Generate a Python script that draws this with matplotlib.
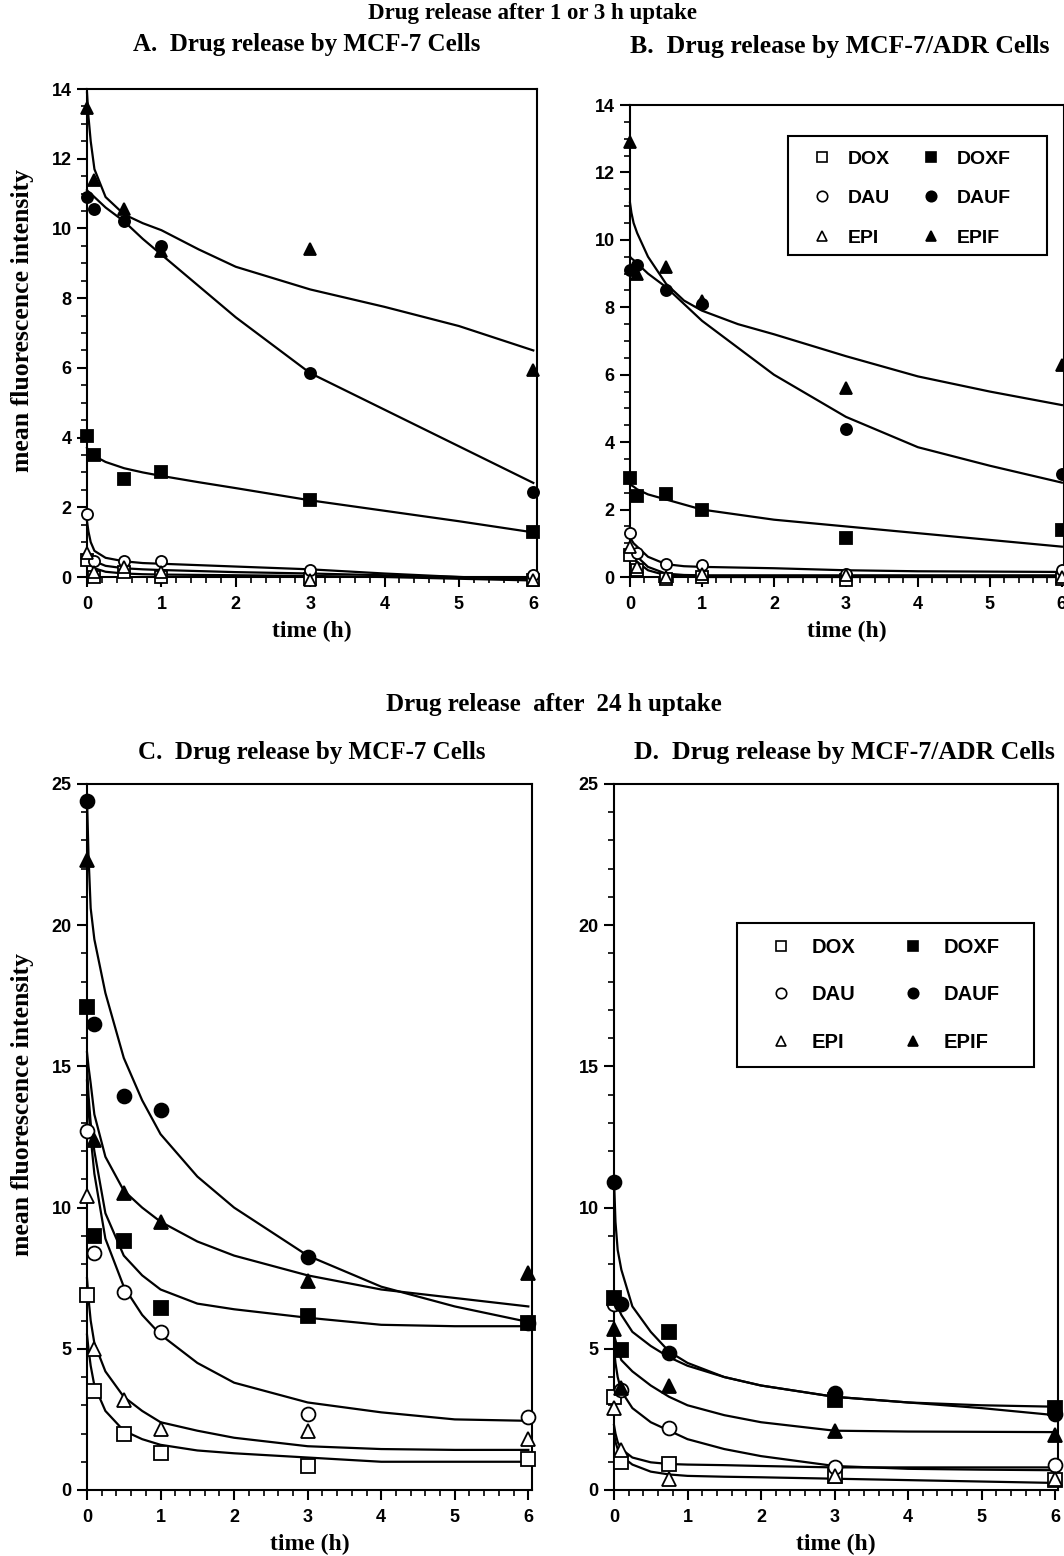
import numpy as np
import matplotlib.pyplot as plt
from matplotlib.lines import Line2D
from matplotlib.patches import Rectangle
from matplotlib.ticker import MultipleLocator

SERIF = 'Liberation Serif'
SANS = 'Liberation Sans'

# sampling times of the measured points
t_ab = [0, 0.1, 0.5, 1, 3, 6]
t_c = [0, 0.1, 0.5, 1, 3, 6]
t_d = [0, 0.1, 0.75, 3, 6]
t_fit = [0, 0.02, 0.05, 0.1, 0.25, 0.5, 0.75, 1, 1.5, 2, 3, 4, 5, 6]

names = ['DOX', 'DAU', 'EPI', 'DOXF', 'DAUF', 'EPIF']

# A. MCF-7, 1 or 3 h uptake
a_dox = [0.5, 0.0, 0.15, 0.0, -0.05, -0.1]
a_dau = [1.8, 0.45, 0.45, 0.45, 0.2, 0.05]
a_epi = [0.7, 0.15, 0.3, 0.15, -0.1, -0.1]
a_doxf = [4.05, 3.5, 2.8, 3.0, 2.2, 1.3]
a_dauf = [10.9, 10.55, 10.2, 9.5, 5.85, 2.45]
a_epif = [13.45, 11.4, 10.55, 9.35, 9.4, 5.95]

a_fit_dox = [0.5, 0.42, 0.34, 0.25, 0.15, 0.1, 0.08, 0.07, 0.06, 0.05, 0.03, 0.0, -0.05, -0.1]
a_fit_dau = [1.6, 1.3, 1.0, 0.75, 0.55, 0.45, 0.4, 0.38, 0.34, 0.3, 0.22, 0.1, 0.0, -0.05]
a_fit_epi = [0.75, 0.65, 0.55, 0.45, 0.32, 0.25, 0.22, 0.2, 0.17, 0.14, 0.1, 0.05, 0.0, -0.05]
a_fit_doxf = [3.7, 3.62, 3.55, 3.47, 3.3, 3.12, 3.0, 2.9, 2.72, 2.55, 2.2, 1.9, 1.6, 1.28]
a_fit_dauf = [11.1, 11.05, 11.0, 10.9, 10.6, 10.2, 9.7, 9.25, 8.35, 7.45, 5.85, 4.8, 3.75, 2.7]
a_fit_epif = [13.9, 13.2, 12.5, 11.7, 10.9, 10.4, 10.15, 9.95, 9.4, 8.9, 8.25, 7.75, 7.2, 6.5]

# B. MCF-7/ADR, 1 or 3 h uptake
b_dox = [0.65, 0.2, -0.05, 0.0, -0.1, -0.05]
b_dau = [1.3, 0.7, 0.4, 0.35, 0.1, 0.2]
b_epi = [0.9, 0.3, 0.0, 0.1, 0.05, 0.0]
b_doxf = [2.95, 2.4, 2.45, 2.0, 1.15, 1.4]
b_dauf = [9.1, 9.25, 8.5, 8.1, 4.4, 3.05]
b_epif = [12.9, 9.0, 9.2, 8.2, 5.6, 6.3]

b_fit_dox = [0.7, 0.62, 0.55, 0.45, 0.2, 0.05, 0.02, 0.0, 0.0, 0.0, 0.0, 0.0, 0.0, 0.0]
b_fit_dau = [1.2, 1.1, 1.0, 0.9, 0.6, 0.38, 0.32, 0.3, 0.28, 0.26, 0.2, 0.17, 0.16, 0.15]
b_fit_epi = [0.9, 0.82, 0.72, 0.6, 0.3, 0.1, 0.06, 0.05, 0.05, 0.05, 0.05, 0.05, 0.05, 0.05]
b_fit_doxf = [2.75, 2.72, 2.68, 2.6, 2.45, 2.3, 2.15, 2.0, 1.85, 1.7, 1.5, 1.3, 1.1, 0.9]
b_fit_dauf = [9.5, 9.45, 9.4, 9.3, 9.0, 8.6, 8.1, 7.6, 6.8, 6.0, 4.75, 3.85, 3.3, 2.8]
b_fit_epif = [11.1, 10.8, 10.5, 10.2, 9.5, 8.7, 8.2, 7.9, 7.5, 7.2, 6.55, 5.95, 5.5, 5.1]

# C. MCF-7, 24 h uptake
c_dox = [6.9, 3.5, 2.0, 1.3, 0.85, 1.1]
c_dau = [12.7, 8.4, 7.0, 5.6, 2.7, 2.6]
c_epi = [10.4, 5.0, 3.2, 2.15, 2.1, 1.8]
c_doxf = [17.1, 9.0, 8.8, 6.45, 6.15, 5.9]
c_dauf = [24.4, 16.5, 13.95, 13.45, 8.25, 5.9]
c_epif = [22.3, 12.4, 10.5, 9.5, 7.4, 7.7]

c_fit_dox = [5.5, 5.0, 4.4, 3.7, 2.8, 2.1, 1.8, 1.6, 1.4, 1.3, 1.15, 1.0, 1.0, 1.0]
c_fit_dau = [14.5, 13.5, 12.5, 11.2, 8.9, 7.2, 6.2, 5.5, 4.5, 3.8, 3.1, 2.75, 2.5, 2.45]
c_fit_epi = [7.5, 6.8, 6.0, 5.2, 4.2, 3.3, 2.8, 2.4, 2.1, 1.85, 1.55, 1.45, 1.42, 1.42]
c_fit_doxf = [15.0, 14.0, 13.0, 12.0, 9.8, 8.3, 7.6, 7.1, 6.6, 6.4, 6.1, 5.85, 5.8, 5.8]
c_fit_dauf = [24.5, 22.5, 20.6, 19.5, 17.6, 15.3, 13.8, 12.6, 11.1, 10.0, 8.3, 7.2, 6.5, 5.95]
c_fit_epif = [15.5, 15.0, 14.4, 13.3, 11.8, 10.6, 10.0, 9.5, 8.8, 8.3, 7.6, 7.1, 6.8, 6.5]

# D. MCF-7/ADR, 24 h uptake
d_dox = [3.3, 1.0, 0.92, 0.5, 0.35]
d_dau = [6.6, 3.55, 2.2, 0.8, 0.9]
d_epi = [2.9, 1.4, 0.4, 0.5, 0.4]
d_doxf = [6.8, 4.95, 5.6, 3.2, 2.9]
d_dauf = [10.9, 6.6, 4.85, 3.45, 2.7]
d_epif = [5.7, 3.6, 3.7, 2.1, 1.95]

d_fit_dox = [2.3, 2.0, 1.7, 1.45, 1.15, 0.98, 0.92, 0.9, 0.88, 0.85, 0.8, 0.8, 0.8, 0.8]
d_fit_dau = [5.0, 4.5, 4.0, 3.5, 2.9, 2.4, 2.1, 1.8, 1.45, 1.2, 0.85, 0.75, 0.72, 0.7]
d_fit_epi = [2.0, 1.7, 1.45, 1.2, 0.9, 0.65, 0.55, 0.5, 0.47, 0.45, 0.4, 0.35, 0.3, 0.25]
d_fit_doxf = [7.0, 6.8, 6.5, 6.2, 5.6, 5.1, 4.7, 4.4, 4.0, 3.7, 3.3, 3.1, 2.9, 2.65]
d_fit_dauf = [11.0, 9.5, 8.5, 7.8, 6.5, 5.6, 4.9, 4.5, 4.0, 3.7, 3.3, 3.1, 3.0, 2.95]
d_fit_epif = [5.5, 5.3, 5.0, 4.6, 4.2, 3.7, 3.3, 3.0, 2.65, 2.4, 2.1, 2.07, 2.06, 2.05]

marker_style = {
    'DOX': ('s', 'white'), 'DAU': ('o', 'white'), 'EPI': ('^', 'white'),
    'DOXF': ('s', 'black'), 'DAUF': ('o', 'black'), 'EPIF': ('^', 'black'),
}

W, H = 1064, 1556
fig = plt.figure(figsize=(W / 100, H / 100), dpi=100)


def axes_px(x0, y_top, x1, y_bot):
    return fig.add_axes([x0 / W, 1 - y_bot / H, (x1 - x0) / W, (y_bot - y_top) / H])


def draw_panel(ax, t, points, fits, xmax, ymax, major, minor, msize):
    for f in fits:
        ax.plot(t_fit, f, color='black', lw=1.6, zorder=2, clip_on=False)
    for name, vals in zip(names, points):
        m, fc = marker_style[name]
        ax.plot(t, vals, ls='none', marker=m, ms=msize, mfc=fc, mec='black',
                mew=1.3, zorder=3, clip_on=False)
    ax.set_xlim(0, xmax)
    ax.set_ylim(0, ymax)
    ax.xaxis.set_major_locator(MultipleLocator(1))
    ax.xaxis.set_minor_locator(MultipleLocator(0.2))
    ax.yaxis.set_major_locator(MultipleLocator(major))
    ax.yaxis.set_minor_locator(MultipleLocator(minor))
    ax.tick_params(which='major', direction='out', length=7, width=1.5, labelsize=13)
    ax.tick_params(axis='x', which='major', pad=7)
    ax.tick_params(axis='y', which='major', pad=4)
    ax.tick_params(which='minor', direction='out', length=4, width=1.2)
    for lab in ax.get_xticklabels() + ax.get_yticklabels():
        lab.set_fontfamily(SANS)
        lab.set_fontweight('bold')
    for s in ax.spines.values():
        s.set_linewidth(1.5)
    ax.set_xlabel('time (h)', fontfamily=SERIF, fontweight='bold', fontsize=17, labelpad=5)


def add_legend(box, marker_x, size, htp, cs, ls, dy=0):
    # box = (left, top, right, bottom) in pixels
    x0, y0, x1, y1 = box
    fig.add_artist(Rectangle((x0 / W, 1 - y1 / H), (x1 - x0) / W, (y1 - y0) / H,
                             transform=fig.transFigure, fill=False, ec='black', lw=1.5))
    handles = []
    for name in names:
        m, fc = marker_style[name]
        handles.append(Line2D([], [], ls='none', marker=m, ms=7.5, mfc=fc, mec='black', mew=1.2))
    fig.legend(handles, names, ncol=2, loc='center left',
               bbox_to_anchor=(marker_x / W, 1 - ((y0 + y1) / 2 + dy) / H),
               bbox_transform=fig.transFigure, frameon=False,
               prop={'family': SANS, 'weight': 'bold', 'size': size},
               handlelength=1.0, handletextpad=htp, columnspacing=cs,
               labelspacing=ls, borderpad=0, borderaxespad=0)


ax_a = axes_px(87, 89, 537, 577)
ax_b = axes_px(630, 105, 1064, 577)
ax_c = axes_px(87, 784, 532, 1490)
ax_d = axes_px(614, 784, 1058, 1490)

draw_panel(ax_a, t_ab, [a_dox, a_dau, a_epi, a_doxf, a_dauf, a_epif],
           [a_fit_dox, a_fit_dau, a_fit_epi, a_fit_doxf, a_fit_dauf, a_fit_epif],
           6.05, 14, 2, 0.5, 8)
draw_panel(ax_b, t_ab, [b_dox, b_dau, b_epi, b_doxf, b_dauf, b_epif],
           [b_fit_dox, b_fit_dau, b_fit_epi, b_fit_doxf, b_fit_dauf, b_fit_epif],
           6.03, 14, 2, 0.5, 8)
draw_panel(ax_c, t_c, [c_dox, c_dau, c_epi, c_doxf, c_dauf, c_epif],
           [c_fit_dox, c_fit_dau, c_fit_epi, c_fit_doxf, c_fit_dauf, c_fit_epif],
           6.05, 25, 5, 1, 10)
draw_panel(ax_d, t_d, [d_dox, d_dau, d_epi, d_doxf, d_dauf, d_epif],
           [d_fit_dox, d_fit_dau, d_fit_epi, d_fit_doxf, d_fit_dauf, d_fit_epif],
           6.04, 25, 5, 1, 10)

add_legend((788, 136, 1047, 255), 812, 14, 0.84, 1.6, 1.13, dy=3)
add_legend((737, 923, 1034, 1067), 771, 14.5, 1.0, 2.4, 1.4)

ylab = dict(fontfamily=SERIF, fontweight='bold', fontsize=18.5, rotation=90, ha='center', va='center')
fig.text(23 / W, 1 - 320 / H, 'mean fluorescence intensity', **ylab)
fig.text(23 / W, 1 - 1105 / H, 'mean fluorescence intensity', **ylab)

ttl = dict(fontfamily=SERIF, fontweight='bold', ha='center', va='center')
fig.text(532 / W, 1 - 14 / H, 'Drug release after 1 or 3 h uptake', fontsize=16.5, **ttl)
fig.text(307 / W, 1 - 45 / H, 'A.  Drug release by MCF-7 Cells', fontsize=18, **ttl)
fig.text(840 / W, 1 - 46 / H, 'B.  Drug release by MCF-7/ADR Cells', fontsize=18.5, **ttl)
fig.text(554 / W, 1 - 705 / H, 'Drug release  after  24 h uptake', fontsize=18, **ttl)
fig.text(312 / W, 1 - 752 / H, 'C.  Drug release by MCF-7 Cells', fontsize=18, **ttl)
fig.text(844 / W, 1 - 752 / H, 'D.  Drug release by MCF-7/ADR Cells', fontsize=18.5, **ttl)

fig.savefig('out.png', dpi=100)
